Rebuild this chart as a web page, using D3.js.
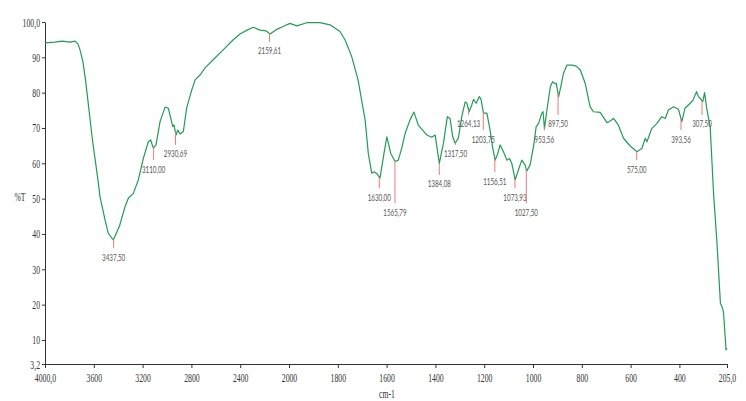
<!DOCTYPE html>
<html>
<head>
<meta charset="utf-8">
<script src="https://cdn.jsdelivr.net/npm/d3@7"></script>
<style>
  body { margin: 0; background: #fff; }
  svg { display: block; }
  .axis text { font-family: 'Liberation Serif', 'DejaVu Serif', serif; font-size: 12.5px; fill: #333; }
  .axis path, .axis line { stroke: #333; }
  .axis-label { font-family: 'Liberation Serif', serif; font-size: 12.5px; fill: #333; }
  .peak-label { font-family: Lato, 'Liberation Sans', sans-serif; font-size: 9.5px; fill: #555; }
</style>
</head>
<body>
<div id="app"></div>
<script>
// spectrum
const wavenumber = [4000, 3918, 3861, 3795, 3754, 3730, 3713, 3689, 3668, 3611, 3566, 3549, 3508, 3481, 3440,
  3391, 3344, 3317, 3276, 3235, 3194, 3153, 3134, 3112, 3090, 3057, 3016, 2989, 2953, 2943, 2926, 2912, 2893,
  2866, 2839, 2797, 2770, 2729, 2688, 2607, 2525, 2459, 2402, 2344, 2293, 2238, 2189, 2156, 2101, 2057, 2019,
  1996, 1968, 1927, 1902, 1873, 1832, 1791, 1770, 1743, 1717, 1688, 1675, 1661, 1651, 1639, 1627, 1613, 1599,
  1583, 1565, 1552, 1538, 1524, 1504, 1488, 1470, 1435, 1415, 1401, 1384, 1367, 1351, 1340, 1329, 1319, 1306,
  1292, 1278, 1271, 1262, 1251, 1244, 1233, 1220, 1213, 1203, 1189, 1176, 1165, 1155, 1146, 1135, 1121, 1107,
  1097, 1087, 1073, 1060, 1046, 1032, 1026, 1012, 998, 987, 977, 964, 959, 953, 943, 929, 920, 909, 905, 895,
  886, 875, 861, 840, 823, 806, 786, 766, 752, 724, 718, 697, 684, 670, 650, 629, 602, 574, 554, 540, 533, 513,
  492, 472, 458, 445, 424, 404, 390, 377, 356, 344, 330, 322, 304, 297, 287, 274, 260, 246, 232, 223, 219, 209, 205];
const transmittance = [94.1, 94.3, 94.6, 94.3, 94.6, 93.8, 92.1, 88.7, 83.6, 66.6, 55.3, 50.5, 44.0, 40.2, 38.3,
  42.1, 47.7, 50.1, 51.5, 55.3, 61.4, 66.1, 66.6, 64.3, 65.2, 71.8, 75.9, 75.6, 70.4, 70.9, 68.0, 69.4, 68.3,
  69.0, 75.6, 80.8, 83.6, 85.0, 87.0, 89.8, 92.6, 94.9, 96.6, 97.7, 98.5, 97.7, 97.5, 96.6, 97.9, 98.6, 99.2,
  99.6, 98.9, 99.8, 99.8, 99.8, 99.2, 97.3, 94.9, 90.2, 83.6, 72.3, 62.8, 57.2, 57.6, 57.0, 55.8, 61.9, 67.5,
  62.8, 60.5, 60.9, 64.3, 68.5, 72.3, 74.5, 70.8, 68.0, 67.4, 68.0, 60.0, 65.7, 73.2, 72.7, 67.5, 65.7, 67.1,
  73.2, 77.4, 77.0, 74.6, 76.5, 78.1, 77.0, 78.9, 78.1, 74.2, 74.2, 69.4, 64.3, 60.9, 62.4, 65.2, 63.3, 60.9,
  61.4, 60.0, 55.3, 58.1, 60.9, 59.5, 57.8, 59.5, 64.7, 70.4, 71.3, 74.2, 74.6, 69.9, 75.1, 81.7, 83.1, 82.5, 82.7, 78.9,
  81.7, 85.5, 87.8, 87.8, 87.5, 86.4, 82.6, 76.0, 74.6, 74.4, 73.7, 71.5, 72.0, 72.7, 70.8, 67.1, 64.9, 63.3, 64.2, 67.1, 66.1, 69.9,
  71.3, 73.2, 72.7, 75.1, 76.0, 75.3, 71.8, 75.6, 77.0, 77.9, 80.3, 78.9, 77.5, 80.0, 75.1, 70.4, 51.5, 37.4, 20.4, 19.0, 17.5, 7.2, 7.6];

// picked peaks and the %T level their labels hang at
const peakWn = [3437.5, 3110.0, 2930.69, 2159.61, 1630.0, 1565.79, 1384.08, 1317.5, 1264.13, 1203.75,
  1156.51, 1073.93, 1027.5, 953.56, 897.5, 575.0, 393.56, 307.5];
const peakLabelT = [36.0, 60.9, 65.2, 94.4, 52.9, 48.7, 56.7, 65.2, 73.7, 69.4,
  57.5, 52.9, 48.7, 69.3, 73.7, 60.9, 69.4, 73.7];

const xTicks = [4000, 3600, 3200, 2800, 2400, 2000, 1800, 1600, 1400, 1200, 1000, 800, 600, 400, 205];
const yTicks = [3.2, 10, 20, 30, 40, 50, 60, 70, 80, 90, 100];

const data = wavenumber.map((w, i) => ({ w, t: transmittance[i] }));

// canvas
const containerWidth = 746;
const containerHeight = 401;
const margin = { top: 22, right: 19, bottom: 37, left: 45 };
const width = containerWidth - margin.left - margin.right;
const height = containerHeight - margin.top - margin.bottom;
// the text in the picture is squeezed horizontally
const squeeze = 0.62;

const wrapper = d3.select('#app')
  .append('svg')
  .attr('width', containerWidth)
  .attr('height', containerHeight);

const bounds = wrapper.append('g')
  .attr('transform', `translate(${margin.left},${margin.top})`);

// scales: wavenumber axis is doubled below 2000 cm-1
const xScale = d3.scaleLinear()
  .domain([4000, 2000, 205])
  .range([0, 244, width]);
const yScale = d3.scaleLinear()
  .domain([3.2, 100])
  .range([height, 0]);

const comma = (s) => s.replace('.', ',');

// axes
const xAxis = bounds.append('g')
  .attr('class', 'axis')
  .attr('transform', `translate(0,${height})`)
  .call(d3.axisBottom(xScale)
    .tickValues(xTicks)
    .tickSizeInner(4)
    .tickSizeOuter(0)
    .tickPadding(5)
    .tickFormat((d) => (d === 4000 || d === 205 ? comma(d.toFixed(1)) : d)));
xAxis.selectAll('text').attr('transform', `scale(${squeeze},1)`);

const yAxis = bounds.append('g')
  .attr('class', 'axis')
  .call(d3.axisLeft(yScale)
    .tickValues(yTicks)
    .tickSizeInner(3)
    .tickSizeOuter(0)
    .tickPadding(2)
    .tickFormat((d) => (d === 100 ? '100,0' : comma(String(d)))));
yAxis.selectAll('text')
  .attr('x', -5 / squeeze)
  .attr('transform', `scale(${squeeze},1)`);

wrapper.append('text')
  .attr('class', 'axis-label')
  .attr('text-anchor', 'middle')
  .attr('transform', `translate(387,398) scale(${squeeze},1)`)
  .text('cm-1');

wrapper.append('text')
  .attr('class', 'axis-label')
  .attr('text-anchor', 'middle')
  .attr('transform', `translate(20,201) scale(${squeeze},1)`)
  .text('%T');

// spectrum
const line = d3.line()
  .x((d) => xScale(d.w))
  .y((d) => yScale(d.t));

bounds.append('path')
  .datum(data)
  .attr('fill', 'none')
  .attr('stroke', '#239b56')
  .attr('stroke-width', 1.2)
  .attr('stroke-linejoin', 'round')
  .attr('d', line);

// %T on the curve at a given wavenumber
const curveAt = (w) => {
  const i = data.findIndex((d, k) => k < data.length - 1 && d.w >= w && data[k + 1].w <= w);
  const a = data[i];
  const b = data[i + 1];
  return a.t + ((w - a.w) / (b.w - a.w)) * (b.t - a.t);
};

// peak markers
const peaks = bounds.append('g')
  .selectAll('g')
  .data(peakWn.map((w, i) => ({ w, labelT: peakLabelT[i] })))
  .enter()
  .append('g')
  .attr('transform', (d) => `translate(${xScale(d.w)},0)`);

peaks.append('line')
  .attr('y1', (d) => yScale(curveAt(d.w)))
  .attr('y2', (d) => yScale(d.labelT))
  .attr('stroke', '#ec7b76')
  .attr('stroke-width', 1);

peaks.append('text')
  .attr('class', 'peak-label')
  .attr('text-anchor', 'middle')
  .attr('transform', (d) => `translate(0,${yScale(d.labelT) + 12.5}) scale(0.66,1)`)
  .text((d) => comma(d.w.toFixed(2)));
</script>
</body>
</html>
